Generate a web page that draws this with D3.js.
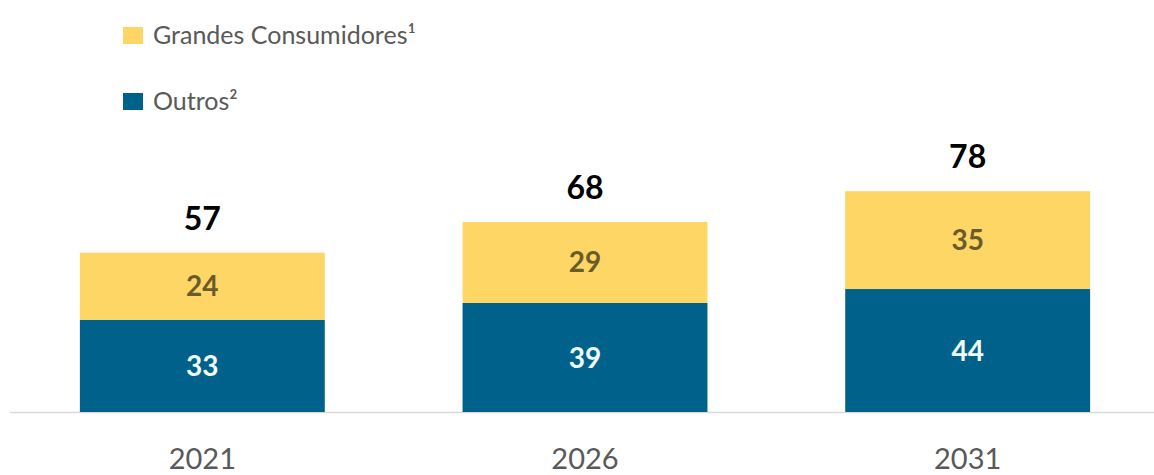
<!DOCTYPE html>
<html>
<head>
<meta charset="utf-8">
<script src="https://cdn.jsdelivr.net/npm/d3@7"></script>
<style>
  body { margin: 0; background: #fff; }
  text { font-family: Lato, "Open Sans", sans-serif; }
</style>
</head>
<body>
<svg id="chart" width="1154" height="475"></svg>
<script>
// data
const years = ['2021', '2026', '2031']
const outros = [33, 39, 44]
const grandes = [24, 29, 35]
// totals as printed (rounded in the source, 44 + 35 shows as 78)
const totals = [57, 68, 78]
const seriesNames = ['Outros²', 'Grandes Consumidores¹']

const colors = { outros: '#00628A', grandes: '#FDD665' }

const svg = d3.select('#chart')

const x = d3.scaleBand()
  .domain(years)
  .range([11, 1159])
  .paddingInner(0.36)
  .paddingOuter(0.18)

const y = d3.scaleLinear()
  .domain([0, 78])
  .range([412, 194])

const rows = years.map((yr, i) => ({ year: yr, outros: outros[i], grandes: grandes[i], total: totals[i] }))
const stack = d3.stack().keys(['outros', 'grandes'])(rows)

// baseline
svg.append('line')
  .attr('x1', 10)
  .attr('x2', 1154)
  .attr('y1', y(0) + 0.5)
  .attr('y2', y(0) + 0.5)
  .attr('stroke', '#d9d9d9')
  .attr('stroke-width', 1.5)

const layers = svg.selectAll('.layer')
  .data(stack)
  .enter().append('g')
  .attr('class', 'layer')
  .attr('fill', d => colors[d.key])

layers.selectAll('rect')
  .data(d => d)
  .enter().append('rect')
  .attr('x', d => x(d.data.year))
  .attr('width', x.bandwidth())
  .attr('y', d => y(d[1]))
  .attr('height', d => y(d[0]) - y(d[1]))

// segment labels
layers.each(function (layer) {
  d3.select(this).selectAll('text')
    .data(layer)
    .enter().append('text')
    .attr('x', d => x(d.data.year) + x.bandwidth() / 2)
    .attr('y', d => (y(d[0]) + y(d[1])) / 2 + 10)
    .attr('text-anchor', 'middle')
    .attr('font-size', '28px')
    .attr('font-weight', 'bold')
    .attr('fill', layer.key === 'outros' ? '#f2fbff' : '#6b5a2a')
    .text(d => d.data[layer.key])
})

// totals
svg.selectAll('.total')
  .data(rows)
  .enter().append('text')
  .attr('class', 'total')
  .attr('x', d => x(d.year) + x.bandwidth() / 2)
  .attr('y', d => y(d.outros + d.grandes) - 23)
  .attr('text-anchor', 'middle')
  .attr('font-size', '32px')
  .attr('font-weight', 'bold')
  .attr('fill', '#000')
  .text(d => d.total)

// x axis labels
const xAxis = svg.append('g')
  .attr('transform', `translate(0, ${y(0)})`)
  .call(d3.axisBottom(x).tickSize(0).tickPadding(36))
xAxis.select('.domain').remove()
xAxis.selectAll('text')
  .attr('font-size', '29px')
  .attr('fill', '#595959')
  .attr('font-family', 'Lato, sans-serif')

// legend
const legend = [
  { name: seriesNames[1], color: colors.grandes, y: 27 },
  { name: seriesNames[0], color: colors.outros, y: 93 }
]
const lg = svg.selectAll('.legend')
  .data(legend)
  .enter().append('g')
  .attr('class', 'legend')
  .attr('transform', d => `translate(123, ${d.y})`)

lg.append('rect')
  .attr('width', 20)
  .attr('height', 17)
  .attr('fill', d => d.color)

lg.append('text')
  .attr('x', 30)
  .attr('y', 17)
  .attr('font-size', '25px')
  .attr('fill', '#595959')
  .text(d => d.name)
</script>
</body>
</html>
